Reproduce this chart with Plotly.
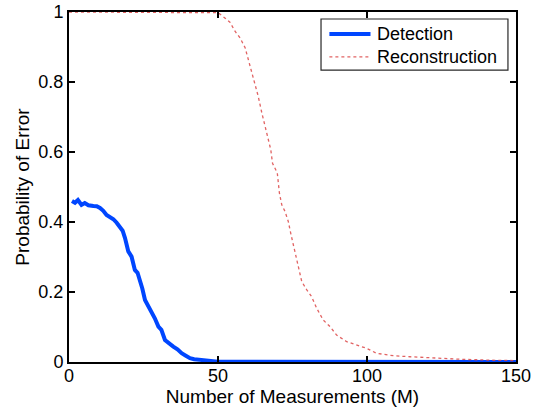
import plotly.graph_objects as go

det_m = [1, 2, 3, 4.2, 5.3, 6.5, 8.2, 9.3, 10.4, 11.5, 12.6, 13.8, 14.9, 16, 17.1, 18, 18.8, 19.9, 21, 22.1, 23, 23.8, 24.6, 25.5, 26.6, 27.7, 28.8, 30, 31, 32.2, 33.6, 35, 36.4, 37.8, 39.2, 40.6, 42, 44, 46, 48, 50, 60, 80, 100, 120, 150]
det_p = [0.46, 0.455, 0.463, 0.449, 0.454, 0.448, 0.446, 0.445, 0.44, 0.432, 0.42, 0.415, 0.408, 0.398, 0.387, 0.375, 0.354, 0.316, 0.301, 0.263, 0.255, 0.235, 0.21, 0.177, 0.16, 0.144, 0.125, 0.101, 0.092, 0.063, 0.052, 0.044, 0.036, 0.025, 0.018, 0.011, 0.008, 0.006, 0.004, 0.002, 0.001, 0.0005, 0.0, 0.0, 0.0, 0.0]

rec_m = [0, 10, 20, 30, 40, 48, 50.1, 52.3, 54, 55.7, 57.4, 59.1, 60.2, 61.3, 62.4, 63.5, 64.7, 65.8, 66.9, 67.7, 68.3, 69.9, 70.6, 71.4, 72.5, 73.6, 74.4, 75.3, 76.2, 77.3, 78.1, 79.8, 81.4, 83.1, 85.3, 87.6, 89.8, 93.2, 96.5, 99.9, 103.2, 108.8, 114.4, 120, 131, 142, 150]
rec_p = [1.0, 1.0, 1.0, 1.0, 1.0, 1.0, 0.998, 0.983, 0.971, 0.945, 0.926, 0.898, 0.864, 0.83, 0.797, 0.759, 0.712, 0.673, 0.64, 0.607, 0.568, 0.54, 0.483, 0.449, 0.43, 0.401, 0.368, 0.335, 0.301, 0.263, 0.23, 0.206, 0.187, 0.154, 0.12, 0.101, 0.077, 0.058, 0.049, 0.039, 0.025, 0.018, 0.015, 0.012, 0.008, 0.005, 0.004]

x_ticks = [0, 50, 100, 150]
y_ticks = [0, 0.2, 0.4, 0.6, 0.8, 1]
y_tick_text = ["0", "0.2", "0.4", "0.6", "0.8", "1"]
series_names = ["Detection", "Reconstruction"]

blue = "rgb(0,70,255)"
red = "rgba(220,70,70,0.85)"
blue_line = dict(color=blue, width=4)
red_line = dict(color=red, width=1.3, dash="dot")

fig = go.Figure()
fig.add_trace(go.Scatter(x=det_m, y=det_p, mode="lines", name=series_names[0],
                         line=blue_line, showlegend=False))
fig.add_trace(go.Scatter(x=rec_m, y=rec_p, mode="lines", name=series_names[1],
                         line=red_line, showlegend=False))

tick_font = dict(family="Liberation Sans, Arial, sans-serif", size=18, color="black")
title_font = dict(family="Liberation Sans, Arial, sans-serif", size=19, color="black")
axis_common = dict(showline=True, linecolor="black", linewidth=2, mirror="ticks",
                   ticks="inside", ticklen=6, tickwidth=1.5, tickcolor="black",
                   showgrid=False, zeroline=False, tickfont=tick_font, automargin=False,
                   ticklabeloverflow="allow")
fig.update_xaxes(range=[0, 150], tickvals=x_ticks, ticktext=[str(v) for v in x_ticks],
                 title=dict(text="Number of Measurements (M)", font=title_font, standoff=0),
                 ticklabelstandoff=-4, **axis_common)
fig.update_yaxes(range=[0, 1], tickvals=y_ticks, ticktext=y_tick_text,
                 title=dict(text="Probability of Error", font=title_font, standoff=4),
                 **axis_common)

# MATLAB-style legend box drawn in paper coordinates
lg_x0, lg_x1, lg_y0, lg_y1 = 0.5638, 0.982, 0.834, 0.98
sample_x0, sample_x1, text_x = 0.5825, 0.6745, 0.6846
row_y = [0.937, 0.872]
fig.add_shape(type="rect", xref="paper", yref="paper", x0=lg_x0, x1=lg_x1, y0=lg_y0, y1=lg_y1,
              line=dict(color="rgb(40,40,40)", width=1.2), fillcolor="white", layer="above")
for name, ln, yy in zip(series_names, [blue_line, red_line], row_y):
    fig.add_shape(type="line", xref="paper", yref="paper", x0=sample_x0, x1=sample_x1,
                  y0=yy, y1=yy, line=ln, layer="above")
    fig.add_annotation(xref="paper", yref="paper", x=text_x, y=yy, text=name,
                       showarrow=False, xanchor="left", yanchor="middle",
                       font=tick_font)

fig.update_layout(width=536, height=410, margin=dict(l=69, r=20, t=12, b=48),
                  plot_bgcolor="white", paper_bgcolor="white", font=tick_font,
                  showlegend=False)
fig.write_html("out.html", config={"displayModeBar": False, "staticPlot": True},
               post_script="document.body.style.margin='0';document.body.style.overflow='hidden';")
